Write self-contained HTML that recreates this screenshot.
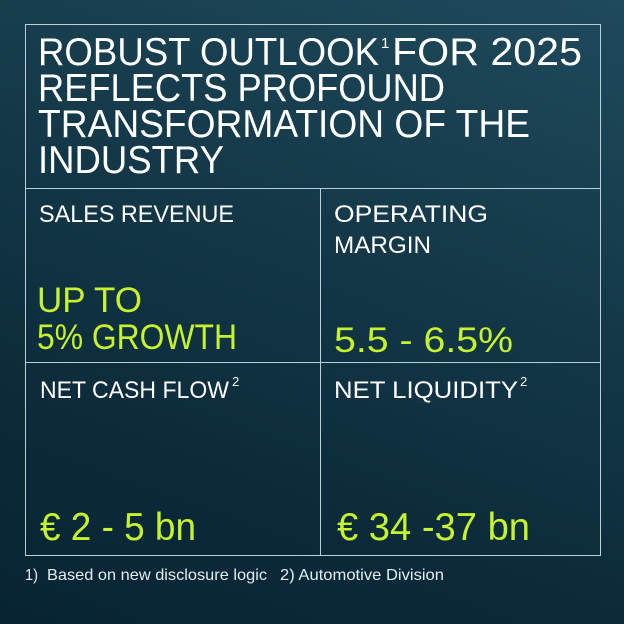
<!DOCTYPE html>
<html><head><meta charset="utf-8"><style>
html,body{margin:0;padding:0;width:624px;height:624px;overflow:hidden}
body{background:linear-gradient(200deg,#1f4a5c 0%,#143848 40%,#0b2a39 75%,#082433 100%)}
svg{position:absolute;left:0;top:0}
text{font-family:"Liberation Sans",sans-serif}
</style></head><body>
<svg width="624" height="624" viewBox="0 0 624 624">
<g stroke="#b8d0d8" stroke-width="1" fill="none">
<rect x="25.5" y="24.5" width="575" height="531"/>
<line x1="25" y1="188.5" x2="601" y2="188.5"/>
<line x1="25" y1="362.5" x2="601" y2="362.5"/>
<line x1="320.5" y1="188" x2="320.5" y2="555"/>
</g>
<g fill="#ffffff" font-size="39">
<text x="38" y="65" textLength="341" lengthAdjust="spacingAndGlyphs">ROBUST OUTLOOK</text>
<text x="381" y="48" font-size="15">1</text>
<text x="392" y="65" textLength="190" lengthAdjust="spacingAndGlyphs">FOR 2025</text>
<text x="38" y="101" textLength="407" lengthAdjust="spacingAndGlyphs">REFLECTS PROFOUND</text>
<text x="38" y="137" textLength="492" lengthAdjust="spacingAndGlyphs">TRANSFORMATION OF THE</text>
<text x="38" y="173" textLength="186" lengthAdjust="spacingAndGlyphs">INDUSTRY</text>
</g>
<g fill="#ffffff" font-size="24">
<text x="39" y="222" textLength="195" lengthAdjust="spacingAndGlyphs">SALES REVENUE</text>
<text x="334" y="222" textLength="154" lengthAdjust="spacingAndGlyphs">OPERATING</text>
<text x="334" y="253" textLength="97" lengthAdjust="spacingAndGlyphs">MARGIN</text>
<text x="40" y="398" textLength="189" lengthAdjust="spacingAndGlyphs">NET CASH FLOW</text>
<text x="232" y="386" font-size="13">2</text>
<text x="334" y="398" textLength="184" lengthAdjust="spacingAndGlyphs">NET LIQUIDITY</text>
<text x="520" y="386" font-size="13">2</text>
</g>
<g fill="#c6f22e" font-size="35">
<text x="37" y="312" textLength="105" lengthAdjust="spacingAndGlyphs">UP TO</text>
<text x="37" y="349" textLength="200" lengthAdjust="spacingAndGlyphs">5% GROWTH</text>
<text x="334" y="352" textLength="179" lengthAdjust="spacingAndGlyphs">5.5 - 6.5%</text>
<text x="40" y="540" font-size="39" textLength="156" lengthAdjust="spacingAndGlyphs">€ 2 - 5 bn</text>
<text x="337" y="540" font-size="39" textLength="193" lengthAdjust="spacingAndGlyphs">€ 34 -37 bn</text>
</g>
<g fill="#e4eef2" font-size="16">
<text x="25" y="580" textLength="13" lengthAdjust="spacingAndGlyphs">1)</text>
<text x="47" y="580" textLength="220" lengthAdjust="spacingAndGlyphs">Based on new disclosure logic</text>
<text x="280" y="580" textLength="164" lengthAdjust="spacingAndGlyphs">2) Automotive Division</text>
</g>
</svg>
</body></html>
